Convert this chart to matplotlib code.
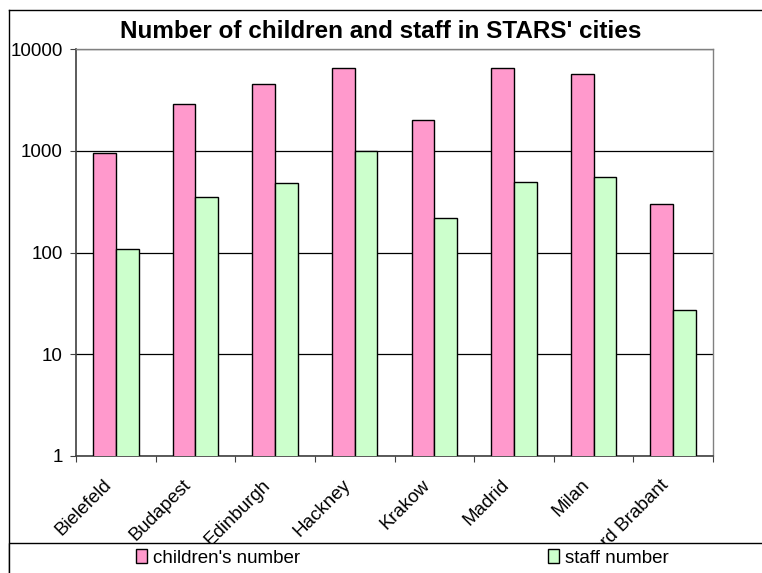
#!/usr/bin/env python3
"""Children and staff in STARS' cities, log bar chart."""

import matplotlib

matplotlib.use("Agg")

import matplotlib.pyplot as plt
import numpy as np
from matplotlib.lines import Line2D
from matplotlib.patches import Rectangle

cities = ["Bielefeld", "Budapest", "Edinburgh", "Hackney", "Krakow",
          "Madrid", "Milan", "Noord Brabant"]
children = [955, 2900, 4580, 6550, 1990, 6550, 5700, 303]
staff = [108, 353, 484, 1000, 218, 494, 550, 27.5]

C_PINK = "#ff99cc"
C_GREEN = "#ccffcc"
C_GRID = "#000000"
C_FRAME = "#808080"

W, H = 762, 573
FS = 13.5
plt.rcParams["font.family"] = ["Liberation Sans", "DejaVu Sans"]


def main():
    fig = plt.figure(figsize=(W / 100, H / 100), dpi=100)
    fig.patch.set_facecolor("white")

    ax = fig.add_axes([76 / W, 1 - 456 / H, (713 - 76) / W, (456 - 49) / H])

    x = np.arange(len(cities)) + 0.5
    bw = 0.285
    b1 = ax.bar(x - bw / 2, children, bw, color=C_PINK, edgecolor="black",
                linewidth=1.0, zorder=3, label="children's number")
    b2 = ax.bar(x + bw / 2, staff, bw, color=C_GREEN, edgecolor="black",
                linewidth=1.0, zorder=3, label="staff number")

    ax.set_yscale("log")
    ax.set_ylim(1, 10000)
    ax.set_xlim(0, len(cities))
    ax.set_yticks([1, 10, 100, 1000, 10000])
    ax.set_yticklabels(["1", "10", "100", "1000", "10000"], fontsize=FS)
    ax.yaxis.set_minor_locator(matplotlib.ticker.NullLocator())
    ax.yaxis.grid(True, color=C_GRID, linewidth=0.9, zorder=1)
    ax.set_axisbelow(True)

    # category boundary ticks; labels sit (invisible ticks) a little left of centre
    ax.set_xticks(np.arange(len(cities) + 1))
    ax.set_xticklabels([])
    ax.set_xticks(x - 0.088, minor=True)
    ax.set_xticklabels(cities, minor=True, rotation=45, ha="right",
                       va="center", rotation_mode="anchor", fontsize=FS)
    ax.tick_params(axis="x", which="minor", length=0, pad=19)
    ax.tick_params(axis="x", which="major", direction="out", length=4.5,
                   color="#404040")
    ax.tick_params(axis="y", direction="out", length=4.5, color="#404040",
                   pad=5)

    for side in ("top", "right"):
        ax.spines[side].set_color(C_FRAME)
        ax.spines[side].set_linewidth(1.0)
    for side in ("left", "bottom"):
        ax.spines[side].set_color("#404040")
        ax.spines[side].set_linewidth(1.2)

    fig.text(381 / W, 1 - 32 / H, "Number of children and staff in STARS' cities",
             ha="center", va="center", fontsize=17.5, fontweight="bold")

    # outer chart border (left and top)
    fig.add_artist(Line2D([9 / W, 9 / W], [0, 1 - 10 / H], color="black",
                          lw=1.0, transform=fig.transFigure))
    fig.add_artist(Line2D([9 / W, 1], [1 - 10 / H, 1 - 10 / H], color="black",
                          lw=1.0, transform=fig.transFigure))

    # legend band, drawn over the clipped last label
    fig.add_artist(Rectangle((9 / W, -0.05), 1.0, 0.05 + (573 - 543) / H,
                             transform=fig.transFigure, facecolor="white",
                             edgecolor="black", lw=1.0, zorder=5))
    for handle, xpos in ((b1, 136), (b2, 548)):
        leg = fig.legend(handles=[handle], loc="center left",
                         bbox_to_anchor=(xpos / W, 1 - 558 / H), frameon=False,
                         fontsize=FS, handlelength=0.6, handleheight=0.7,
                         handletextpad=0.3, borderaxespad=0, borderpad=0)
        leg.set_zorder(6)

    fig.savefig("out.png", dpi=100, facecolor=fig.get_facecolor())
    plt.close(fig)


if __name__ == "__main__":
    main()
